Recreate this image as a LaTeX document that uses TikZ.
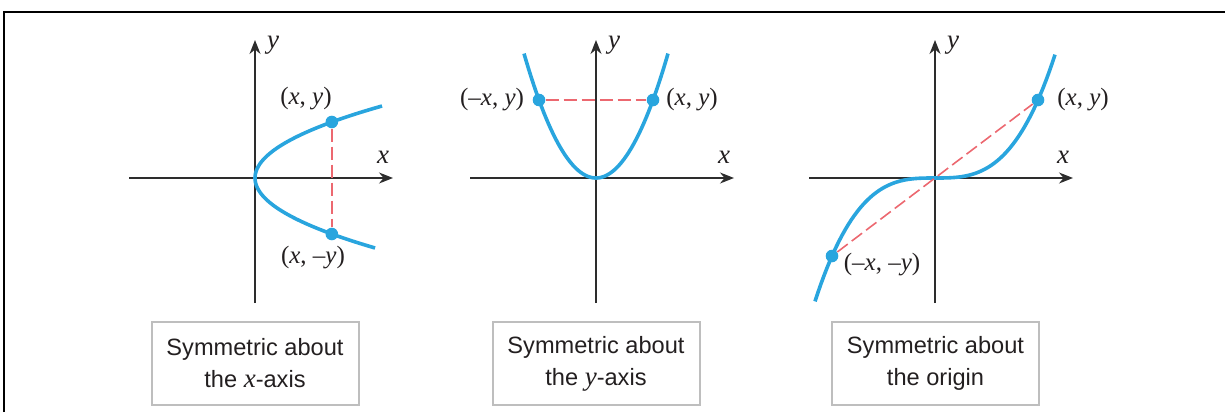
\documentclass[tikz,border=0pt]{standalone}
\usepackage{fontspec}
\setmainfont{Liberation Serif}
\setsansfont{Liberation Sans}
\usetikzlibrary{arrows.meta}
\definecolor{curveblue}{RGB}{41,165,222}
\definecolor{chordred}{RGB}{236,104,112}
\definecolor{axisgray}{RGB}{45,45,45}
\definecolor{boxgray}{RGB}{190,190,190}
\definecolor{inkdark}{RGB}{35,31,32}
\tikzset{
axis/.style={-{Stealth[length=7pt,width=5.5pt]},axisgray,line width=0.7pt},
curve/.style={curveblue,line width=1.8pt},
chord/.style={chordred,line width=0.8pt,dash pattern=on 6.5pt off 2.5pt},
ptdot/.style={circle,fill=curveblue,inner sep=0pt,minimum size=6.3pt},
lbl/.style={font=\fontsize{12.5}{14}\selectfont,text=inkdark,inner sep=0pt},
caption/.style={draw=boxgray,line width=1pt,minimum width=103.5pt,minimum height=41.5pt,align=center,text=inkdark,font=\sffamily\fontsize{11.8}{16}\selectfont},
frame/.style={black,line width=1.2pt}
}
\begin{document}
\begin{tikzpicture}[x=0.5pt,y=-0.5pt]
\useasboundingbox (0,0) rectangle (1225,412);
\draw[frame] (4,412) -- (4,12) -- (1225,12);

% axes
\foreach \ox/\nm in {255/a,596/b,935/c}{
  \coordinate (\nm-l) at (\ox-126,178);
  \coordinate (\nm-r) at (\ox+138,178);
  \coordinate (\nm-b) at (\ox,303);
  \coordinate (\nm-t) at (\ox,40);
  \draw[axis] (\nm-l) -- (\nm-r);
  \draw[axis] (\nm-b) -- (\nm-t);
  \node[lbl,font=\fontsize{13.5}{14}\selectfont] (\nm-ylab) at (\ox+18,45) {\textit{y}};
  \node[lbl,font=\fontsize{13.5}{14}\selectfont] (\nm-xlab) at (\ox+128,157) {\textit{x}};
}

% (a) about the x-axis
\draw[curve] plot[domain=-72:70,samples=60] ({255+0.0245*\x*\x},{178+\x});
\node[ptdot] (a-p) at (331.8,122) {};
\node[ptdot] (a-q) at (331.8,234) {};
\draw[chord] (a-p) -- (a-q);
\node[lbl] (a-plab) at (306,99) {(\textit{x}, \textit{y})};
\node[lbl] (a-qlab) at (313,258) {(\textit{x}, –\textit{y})};
\node[caption] (a-cap) at (255,363.5) {Symmetric about\\the {\rmfamily\itshape\fontsize{13.5}{16}\selectfont x}-axis};

% (b) about the y-axis
\draw[curve] plot[domain=-72:72,samples=60] ({596+\x},{178-0.024*\x*\x});
\node[ptdot] (b-p) at (539,100) {};
\node[ptdot] (b-q) at (653,100) {};
\draw[chord] (b-p) -- (b-q);
\node[lbl] (b-plab) at (492,100) {(–\textit{x}, \textit{y})};
\node[lbl] (b-qlab) at (692,100) {(\textit{x}, \textit{y})};
\node[caption] (b-cap) at (596,363.5) {Symmetric about\\the {\rmfamily\itshape\fontsize{13.5}{16}\selectfont y}-axis};

% (c) about the origin
\draw[curve] plot[domain=-120:120,samples=80] ({935+\x},{178-78*(\x/103)^3});
\node[ptdot] (c-p) at (1038,100) {};
\node[ptdot] (c-q) at (832,256) {};
\draw[chord] (c-q) -- (c-p);
\node[lbl] (c-plab) at (1083,100) {(\textit{x}, \textit{y})};
\node[lbl] (c-qlab) at (882,265) {(–\textit{x}, –\textit{y})};
\node[caption] (c-cap) at (935.5,363.5) {Symmetric about\\the origin};
\end{tikzpicture}
\end{document}
